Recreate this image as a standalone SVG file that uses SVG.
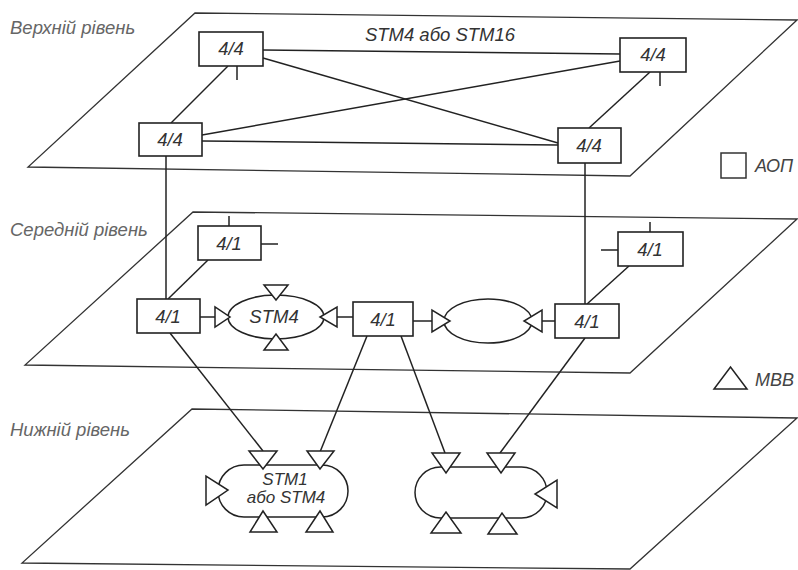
<svg xmlns="http://www.w3.org/2000/svg" width="798" height="570" viewBox="0 0 798 570">
<style>
.plane{fill:none;stroke:#333;stroke-width:1.3}
.box{fill:#fff;stroke:#222;stroke-width:1.6}
.ln{fill:none;stroke:#222;stroke-width:1.5}
.tri{fill:#fff;stroke:#222;stroke-width:1.5;stroke-linejoin:miter}
.lvl{font-family:"Liberation Sans",Arial,sans-serif;font-style:italic;font-size:18.5px;fill:#666}
.lbl{font-family:"Liberation Sans",Arial,sans-serif;font-style:italic;font-size:18.5px;fill:#333;text-anchor:middle}
.sm{font-size:17px}
.leg{font-family:"Liberation Sans",Arial,sans-serif;font-style:italic;font-size:18px;fill:#444}
</style>
<rect width="798" height="570" fill="#fff"/>
<!-- planes -->
<polygon class="plane" points="195,13 797,20 630,176 28,167"/>
<polygon class="plane" points="193,212 797,219 630,373 25,365"/>
<polygon class="plane" points="192,409 797,418 630,569 22,563"/>
<text class="lvl" x="10" y="34">Верхній рівень</text>
<text class="lvl" x="10" y="236">Середній рівень</text>
<text class="lvl" x="10" y="436">Нижній рівень</text>
<text class="lbl" x="440" y="41">STM4 або STM16</text>
<!-- connectors -->
<g id="connectors">
<line class="ln" x1="263" y1="50" x2="620" y2="54"/>
<line class="ln" x1="263" y1="58" x2="558" y2="143"/>
<line class="ln" x1="202" y1="135" x2="620" y2="61"/>
<line class="ln" x1="202" y1="141" x2="558" y2="145"/>
<line class="ln" x1="228" y1="66" x2="171" y2="123"/>
<line class="ln" x1="650" y1="72" x2="589" y2="128"/>
<line class="ln" x1="237" y1="66" x2="237" y2="80"/>
<line class="ln" x1="660" y1="72" x2="660" y2="86"/>
<line class="ln" x1="166" y1="156" x2="166" y2="299"/>
<line class="ln" x1="585" y1="163" x2="585" y2="304"/>
<line class="ln" x1="229" y1="216" x2="229" y2="226"/>
<line class="ln" x1="261" y1="244" x2="278" y2="244"/>
<line class="ln" x1="650" y1="222" x2="650" y2="232"/>
<line class="ln" x1="601" y1="250" x2="618" y2="250"/>
<line class="ln" x1="208" y1="260" x2="168" y2="299"/>
<line class="ln" x1="629" y1="266" x2="587" y2="304"/>
<line class="ln" x1="200" y1="317" x2="215" y2="317"/>
<line class="ln" x1="337" y1="317" x2="353" y2="317"/>
<line class="ln" x1="413" y1="321" x2="432" y2="321"/>
<line class="ln" x1="542" y1="321" x2="555" y2="321"/>
<line class="ln" x1="170" y1="333" x2="263" y2="451"/>
<line class="ln" x1="367" y1="336" x2="320" y2="452"/>
<line class="ln" x1="401" y1="336" x2="445" y2="453"/>
<line class="ln" x1="585" y1="338" x2="500" y2="453"/>
</g>
<!-- top level nodes -->
<g id="n44a"><rect class="box" x="199" y="32" width="64" height="34"/><text class="lbl" x="231" y="55">4/4</text></g>
<g id="n44b"><rect class="box" x="139" y="123" width="63" height="33"/><text class="lbl" x="170" y="146">4/4</text></g>
<g id="n44c"><rect class="box" x="620" y="38" width="66" height="34"/><text class="lbl" x="653" y="61">4/4</text></g>
<g id="n44d"><rect class="box" x="558" y="128" width="63" height="35"/><text class="lbl" x="589" y="152">4/4</text></g>
<!-- middle level nodes -->
<g id="n41e"><rect class="box" x="198" y="226" width="63" height="34"/><text class="lbl" x="229" y="250">4/1</text></g>
<g id="n41f"><rect class="box" x="137" y="299" width="63" height="34"/><text class="lbl" x="168" y="323">4/1</text></g>
<g id="n41g"><rect class="box" x="353" y="302" width="60" height="34"/><text class="lbl" x="383" y="326">4/1</text></g>
<g id="n41h"><rect class="box" x="555" y="304" width="64" height="34"/><text class="lbl" x="587" y="328">4/1</text></g>
<g id="n41i"><rect class="box" x="618" y="232" width="65" height="34"/><text class="lbl" x="650" y="256">4/1</text></g>
<g id="ring1">
<ellipse cx="276" cy="317" rx="48" ry="22" fill="#fff" stroke="#222" stroke-width="1.5"/>
<text class="lbl" x="274" y="323">STM4</text>
<polygon class="tri" points="215,307 215,327 230,317"/>
<polygon class="tri" points="337,307 337,327 320,317"/>
<polygon class="tri" points="264,285 288,285 276,300"/>
<polygon class="tri" points="264,350 288,350 276,334"/>
</g>
<g id="ring2">
<ellipse cx="488" cy="321" rx="44" ry="22" fill="#fff" stroke="#222" stroke-width="1.5"/>
<polygon class="tri" points="432,310 432,332 450,321"/>
<polygon class="tri" points="542,310 542,332 524,321"/>
</g>
<!-- lower level -->
<g id="ring3">
<rect x="218" y="465" width="130" height="52" rx="26" ry="26" fill="#fff" stroke="#222" stroke-width="1.5"/>
<text class="lbl sm" x="285" y="485">STM1</text>
<text class="lbl sm" x="286" y="503">або STM4</text>
<polygon class="tri" points="249,451 277,451 263,469"/>
<polygon class="tri" points="307,451 334,451 320,469"/>
<polygon class="tri" points="250,532 277,532 263,511"/>
<polygon class="tri" points="306,532 333,532 320,511"/>
<polygon class="tri" points="206,476 206,505 228,490"/>
</g>
<g id="ring4">
<rect x="415" y="467" width="132" height="51" rx="25.5" ry="25.5" fill="#fff" stroke="#222" stroke-width="1.5"/>
<polygon class="tri" points="432,453 460,453 446,473"/>
<polygon class="tri" points="487,453 515,453 501,473"/>
<polygon class="tri" points="431,533 461,533 446,512"/>
<polygon class="tri" points="488,534 517,534 502,513"/>
<polygon class="tri" points="557,480 557,508 535,494"/>
</g>
<!-- legend -->
<g id="legend-aop"><rect x="721" y="153" width="25" height="25" fill="#fff" stroke="#333" stroke-width="1.5"/><text class="leg" x="755" y="172">АОП</text></g>
<g id="legend-mvv"><polygon class="tri" points="714,389 747,389 730.5,367"/><text class="leg" x="755" y="386">МВВ</text></g>
</svg>
